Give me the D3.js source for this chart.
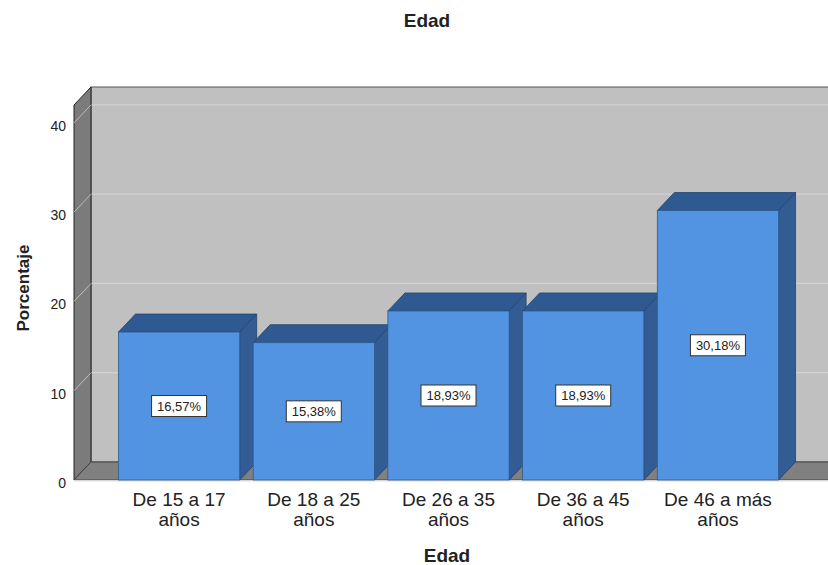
<!DOCTYPE html>
<html>
<head>
<meta charset="utf-8">
<script src="https://cdn.jsdelivr.net/npm/d3@7"></script>
<style>
  body { margin: 0; background: #fff; }
  text { font-family: "Liberation Sans", Arial, sans-serif; fill: #222; }
</style>
</head>
<body>
<svg id="chart" width="828" height="565"></svg>
<script>
// Edad - 3D bar chart (SPSS look)

var categories = [["De 15 a 17", "años"], ["De 18 a 25", "años"], ["De 26 a 35", "años"],
                  ["De 36 a 45", "años"], ["De 46 a más", "años"]];
var percentages = [16.57, 15.38, 18.93, 18.93, 30.18];
var yTicks = [0, 10, 20, 30, 40];

var depthX = 17, depthY = 18;   // 3d offset of back plane
var plotLeft = 74, plotRight = 823, plotBottom = 480, plotTop = 105;

var svg = d3.select("#chart");

var xscale = d3.scaleBand()
    .domain(d3.range(categories.length))
    .range([plotLeft, plotRight])
    .paddingInner(0.1)
    .paddingOuter(0.33);

var yscale = d3.scaleLinear()
    .domain([0, 42])
    .range([plotBottom, plotTop]);

var esLocale = d3.formatLocale({decimal: ",", thousands: ".", grouping: [3], currency: ["", " €"]});
var fmt = esLocale.format(".2f");

function pts(arr) { return arr.map(function(p) { return p.join(","); }).join(" "); }

// back wall
svg.append("rect")
    .attr("x", plotLeft + depthX).attr("y", plotTop - depthY)
    .attr("width", 900).attr("height", plotBottom - plotTop)
    .attr("fill", "#c0c0c0")
    .attr("stroke", "#555").attr("stroke-width", 1);

// back wall grid lines
svg.selectAll(".grid")
    .data(yTicks.filter(function(d) { return d > 0; }))
    .enter().append("line")
    .attr("class", "grid")
    .attr("x1", plotLeft + depthX).attr("x2", 900)
    .attr("y1", function(d) { return yscale(d) - depthY; })
    .attr("y2", function(d) { return yscale(d) - depthY; })
    .attr("stroke", "#d2d2d2").attr("stroke-width", 1.2);

// left wall
svg.append("polygon")
    .attr("points", pts([[plotLeft, plotTop], [plotLeft + depthX, plotTop - depthY],
                         [plotLeft + depthX, plotBottom - depthY], [plotLeft, plotBottom]]))
    .attr("fill", "#7b7b7b")
    .attr("stroke", "#222").attr("stroke-width", 1);

svg.selectAll(".wallgrid")
    .data(yTicks.filter(function(d) { return d > 0; }))
    .enter().append("line")
    .attr("class", "wallgrid")
    .attr("x1", plotLeft).attr("x2", plotLeft + depthX)
    .attr("y1", function(d) { return yscale(d); })
    .attr("y2", function(d) { return yscale(d) - depthY; })
    .attr("stroke", "#bdbdbd").attr("stroke-width", 1);

// floor
svg.append("polygon")
    .attr("points", pts([[plotLeft, plotBottom], [plotLeft + depthX, plotBottom - depthY],
                         [900, plotBottom - depthY], [900, plotBottom]]))
    .attr("fill", "#808080")
    .attr("stroke", "#444").attr("stroke-width", 1);
svg.append("line")
    .attr("x1", plotLeft).attr("x2", 900)
    .attr("y1", plotBottom + 1).attr("y2", plotBottom + 1)
    .attr("stroke", "#e8e8e8").attr("stroke-width", 1.5);

// y tick labels
svg.selectAll(".ytick")
    .data(yTicks)
    .enter().append("text")
    .attr("class", "ytick")
    .attr("x", 66)
    .attr("y", function(d) { return yscale(d) + 8; })
    .attr("text-anchor", "end")
    .style("font-size", "14px")
    .text(function(d) { return d; });

// bars
var bar = svg.selectAll(".bar")
    .data(percentages)
    .enter().append("g")
    .attr("class", "bar");

bar.append("polygon")   // top
    .attr("points", function(d, i) {
        var x0 = xscale(i), x1 = x0 + xscale.bandwidth(), y = yscale(d);
        return pts([[x0, y], [x0 + depthX, y - depthY], [x1 + depthX, y - depthY], [x1, y]]);
    })
    .attr("fill", "#2f5a91").attr("stroke", "#23446f").attr("stroke-width", 0.8);

bar.append("polygon")   // side
    .attr("points", function(d, i) {
        var x1 = xscale(i) + xscale.bandwidth(), y = yscale(d);
        return pts([[x1, y], [x1 + depthX, y - depthY], [x1 + depthX, plotBottom - depthY], [x1, plotBottom]]);
    })
    .attr("fill", "#325c93").attr("stroke", "#23446f").attr("stroke-width", 0.8);

bar.append("rect")      // front
    .attr("x", function(d, i) { return xscale(i); })
    .attr("y", function(d) { return yscale(d); })
    .attr("width", xscale.bandwidth())
    .attr("height", function(d) { return plotBottom - yscale(d); })
    .attr("fill", "#5294e2").attr("stroke", "#2f5a91").attr("stroke-width", 0.8);

// value labels
var lab = bar.append("g")
    .attr("transform", function(d, i) {
        return "translate(" + (xscale(i) + xscale.bandwidth() / 2) + "," + yscale(d / 2) + ")";
    });
lab.append("rect")
    .attr("x", -27.5).attr("y", -10.5)
    .attr("width", 55).attr("height", 21)
    .attr("fill", "#fff").attr("stroke", "#333").attr("stroke-width", 1);
lab.append("text")
    .attr("text-anchor", "middle")
    .attr("y", 5)
    .style("font-size", "13px")
    .text(function(d) { return fmt(d) + "%"; });

// x category labels
var xl = svg.selectAll(".xlabel")
    .data(categories)
    .enter().append("g")
    .attr("class", "xlabel")
    .attr("transform", function(d, i) {
        return "translate(" + (xscale(i) + xscale.bandwidth() / 2) + ",0)";
    });
xl.append("text")
    .attr("text-anchor", "middle")
    .attr("y", 506)
    .style("font-size", "19px")
    .text(function(d) { return d[0]; });
xl.append("text")
    .attr("text-anchor", "middle")
    .attr("y", 526)
    .style("font-size", "19px")
    .text(function(d) { return d[1]; });

// titles
svg.append("text")
    .attr("x", 427).attr("y", 27)
    .attr("text-anchor", "middle")
    .style("font-size", "19px").style("font-weight", "bold")
    .text("Edad");

svg.append("text")
    .attr("x", 447).attr("y", 562)
    .attr("text-anchor", "middle")
    .style("font-size", "19px").style("font-weight", "bold")
    .text("Edad");

svg.append("text")
    .attr("transform", "translate(29,288) rotate(-90)")
    .attr("text-anchor", "middle")
    .style("font-size", "17px").style("font-weight", "bold")
    .text("Porcentaje");
</script>
</body>
</html>
